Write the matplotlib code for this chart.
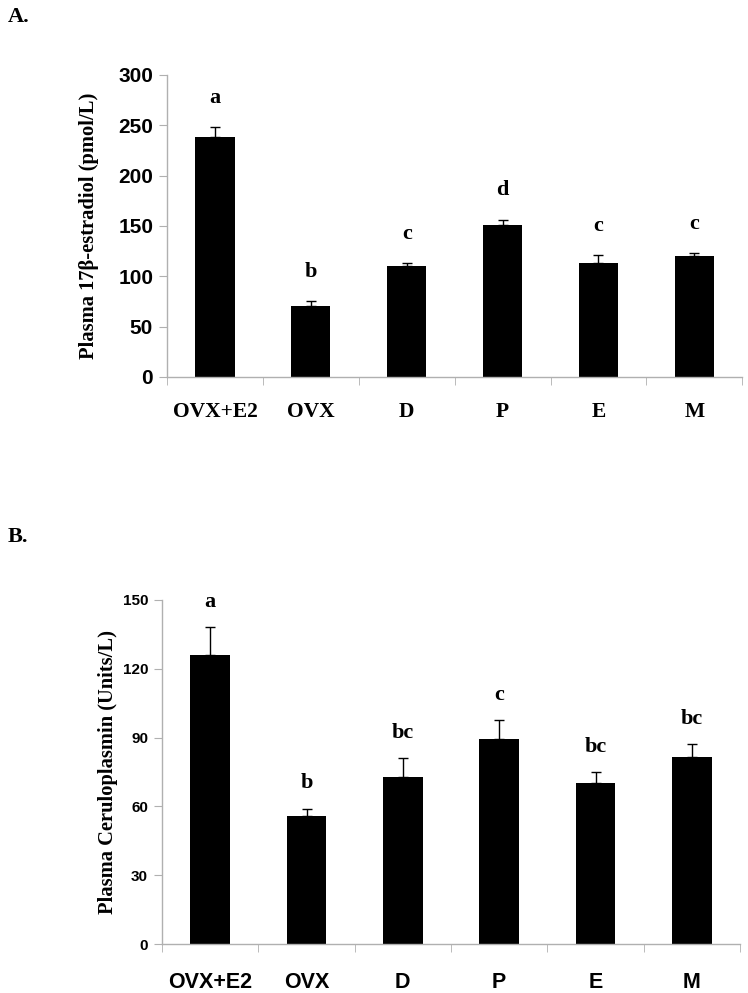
import matplotlib
matplotlib.use("Agg")
import matplotlib.pyplot as plt
import numpy as np

groups = ["OVX+E2", "OVX", "D", "P", "E", "M"]

# panel A: plasma 17b-estradiol (pmol/L)
e2_mean = [238, 70, 110, 151, 113, 120]
e2_err = [10, 5, 3, 5, 8, 3]
e2_letters = ["a", "b", "c", "d", "c", "c"]

# panel B: plasma ceruloplasmin (Units/L)
cp_mean = [126, 56, 73, 89.5, 70, 81.5]
cp_err = [12, 3, 8, 8, 5, 5.5]
cp_letters = ["a", "b", "bc", "c", "bc", "bc"]

serif = "Liberation Serif"
sans = "Liberation Sans"
grey = "#b0b0b0"

fig = plt.figure(figsize=(7.48, 9.93), dpi=100)


def panel(rect, mean, err, letters, ymax, ystep, ylabel, tick_size, xfont,
          lab_off, ylab_pad, xpad):
    ax = fig.add_axes(rect)
    x = np.arange(len(groups))
    ax.bar(x, mean, width=0.41, color="black", zorder=2)
    ax.errorbar(x, mean, yerr=[np.zeros(len(err)), err], fmt="none",
                ecolor="black", elinewidth=1, capsize=3.5, capthick=1, zorder=3)
    for xi, m, e, lab in zip(x, mean, err, letters):
        ax.annotate(lab, (xi, m + e), xytext=(0, lab_off), textcoords="offset points",
                    ha="center", va="bottom", family=serif, fontweight="bold",
                    fontsize=16)
    ax.set_xlim(-0.5, len(groups) - 0.5)
    ax.set_ylim(0, ymax)
    ax.set_yticks(np.arange(0, ymax + 1, ystep))
    for t in ax.get_yticklabels():
        t.set_family(sans)
        t.set_fontweight("bold")
        t.set_fontsize(tick_size)
    ax.set_xticks(x)
    ax.set_xticklabels(groups, family=xfont, fontweight="bold", fontsize=15.5)
    ax.tick_params(axis="x", which="major", length=0, pad=xpad)
    ax.set_xticks(np.arange(-0.5, len(groups)), minor=True)
    ax.tick_params(axis="x", which="minor", length=6, color=grey, direction="out")
    ax.tick_params(axis="y", length=6, color=grey, direction="out", pad=4)
    for s in ["top", "right"]:
        ax.spines[s].set_visible(False)
    for s in ["left", "bottom"]:
        ax.spines[s].set_color(grey)
        ax.spines[s].set_linewidth(1)
    ax.set_ylabel(ylabel, family=serif, fontweight="bold", fontsize=14.8, labelpad=ylab_pad)
    return ax


panel([0.2233, 0.6204, 0.769, 0.3041], e2_mean, e2_err, e2_letters, 300, 50,
      "Plasma 17\u03b2-estradiol (pmol/L)", 15, serif, 14, 14, 18)
panel([0.2166, 0.0493, 0.7727, 0.3465], cp_mean, cp_err, cp_letters, 150, 30,
      "Plasma Ceruloplasmin (Units/L)", 11, sans, 11, 3, 20)

fig.text(0.010, 0.993, "A.", family=serif, fontweight="bold", fontsize=16, va="top")
fig.text(0.010, 0.469, "B.", family=serif, fontweight="bold", fontsize=16, va="top")

fig.savefig("out.png", dpi=100)
